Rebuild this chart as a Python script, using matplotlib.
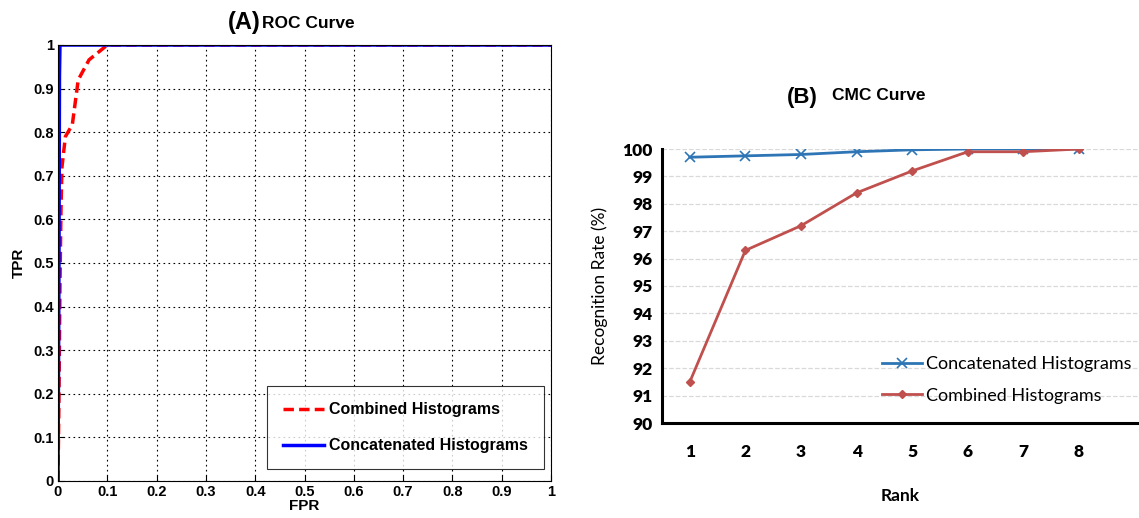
import matplotlib.pyplot as plt
import numpy as np

# ROC curve (A)
roc_fpr_combined = [0.0, 0.002, 0.004, 0.006, 0.008, 0.015, 0.029, 0.041, 0.063, 0.1, 1.0]
roc_tpr_combined = [0.0, 0.2, 0.45, 0.62, 0.72, 0.79, 0.817, 0.92, 0.966, 1.0, 1.0]
roc_fpr_concat = [0.0, 0.002, 0.003, 0.004, 1.0]
roc_tpr_concat = [0.0, 0.5, 0.93, 1.0, 1.0]

# CMC curve (B)
ranks = [1, 2, 3, 4, 5, 6, 7, 8]
cmc_concat = [99.7, 99.75, 99.8, 99.9, 99.97, 100.0, 100.0, 100.0]
cmc_combined = [91.5, 96.3, 97.2, 98.4, 99.2, 99.9, 99.9, 100.0]

fig = plt.figure(figsize=(11.39, 5.18), dpi=100)

# ---- left panel, matlab look ----
ax1 = fig.add_axes([58/1139, 1-481/518, (551-58)/1139, (481-45)/518])
ax1.plot(roc_fpr_combined, roc_tpr_combined, color='red', linestyle='--', linewidth=2.5,
         dashes=(3, 1.5), label='Combined Histograms')
ax1.plot(roc_fpr_concat, roc_tpr_concat, color='blue', linewidth=2.5, label='Concatenated Histograms')
ax1.set_xlim(0, 1)
ax1.set_ylim(0, 1)
ticks = np.round(np.arange(0, 1.01, 0.1), 1)
ticklabels = ['0'] + [f'{t:g}' for t in ticks[1:-1]] + ['1']
ax1.set_xticks(ticks)
ax1.set_xticklabels(ticklabels)
ax1.set_yticks(ticks)
ax1.set_yticklabels(ticklabels)
ax1.grid(True, color='black', linestyle=(0, (1.5, 3)), linewidth=0.8)
ax1.tick_params(direction='in', length=4, labelsize=10.5, pad=3)
for lab in ax1.get_xticklabels() + ax1.get_yticklabels():
    lab.set_fontweight('bold')
    lab.set_family('Liberation Sans')
for sp in ax1.spines.values():
    sp.set_linewidth(0.8)
ax1.set_xlabel('FPR', fontsize=11, fontweight='bold', family='Liberation Sans', labelpad=0)
ax1.set_ylabel('TPR', fontsize=11, fontweight='bold', family='Liberation Sans', labelpad=5)
leg1 = ax1.legend(loc='lower right', bbox_to_anchor=(0.992, 0.02), fancybox=False,
                  edgecolor='black', handlelength=2.6, handletextpad=0.3, labelspacing=1.3,
                  borderpad=1.0, borderaxespad=0.2,
                  prop={'family': 'Liberation Sans', 'weight': 'bold', 'size': 11.5})
leg1.get_frame().set_linewidth(0.8)
fig.text(228/1139, 1-22/518, '(A)', fontsize=17, fontweight='bold', family='Liberation Sans',
         ha='left', va='center')
fig.text(262/1139, 1-23/518, 'ROC Curve', fontsize=12.5, fontweight='bold', family='Liberation Sans',
         ha='left', va='center')

# ---- right panel, excel look ----
ax2 = fig.add_axes([662/1139, 1-423/518, (1139-662)/1139, (423-149)/518])
ax2.plot(ranks, cmc_concat, color='#2E75B6', linewidth=2, marker='x', markersize=7,
         markeredgewidth=1.2, label='Concatenated Histograms')
ax2.plot(ranks, cmc_combined, color='#C0504D', linewidth=2, marker='D', markersize=4.5,
         label='Combined Histograms')
ax2.set_xlim(0.5, 0.5 + (1139-662)/55.6)
ax2.set_ylim(90, 100)
ax2.set_xticks(ranks)
ax2.set_yticks(range(90, 101))
ax2.grid(True, axis='y', color='#D9D9D9', linestyle='--', linewidth=0.9)
ax2.set_axisbelow(True)
for side in ['top', 'right']:
    ax2.spines[side].set_visible(False)
ax2.spines['left'].set_linewidth(2.2)
ax2.spines['bottom'].set_linewidth(2.2)
ax2.tick_params(length=0, labelsize=12.5, pad=7)
ax2.tick_params(axis='x', pad=15)
for lab in ax2.get_xticklabels() + ax2.get_yticklabels():
    lab.set_fontweight('heavy')
    lab.set_family('Lato')
ax2.set_xlabel('Rank', fontsize=12.5, fontweight='bold', family='Lato', labelpad=20)
ax2.set_ylabel('Recognition Rate (%)', fontsize=12.5, family='Lato', labelpad=10)
ax2.legend(loc='upper left', bbox_to_anchor=((866-662)/477, (423-340)/274), frameon=False,
           handlelength=2.2, handletextpad=0.2, labelspacing=0.85,
           prop={'family': 'Lato', 'size': 13})
fig.text(787/1139, 1-97/518, '(B)', fontsize=16, fontweight='bold', family='Liberation Sans',
         ha='left', va='center')
fig.text(832/1139, 1-96/518, 'CMC Curve', fontsize=12.5, fontweight='bold', family='Liberation Sans',
         ha='left', va='center')

fig.savefig('out.png', dpi=100)
